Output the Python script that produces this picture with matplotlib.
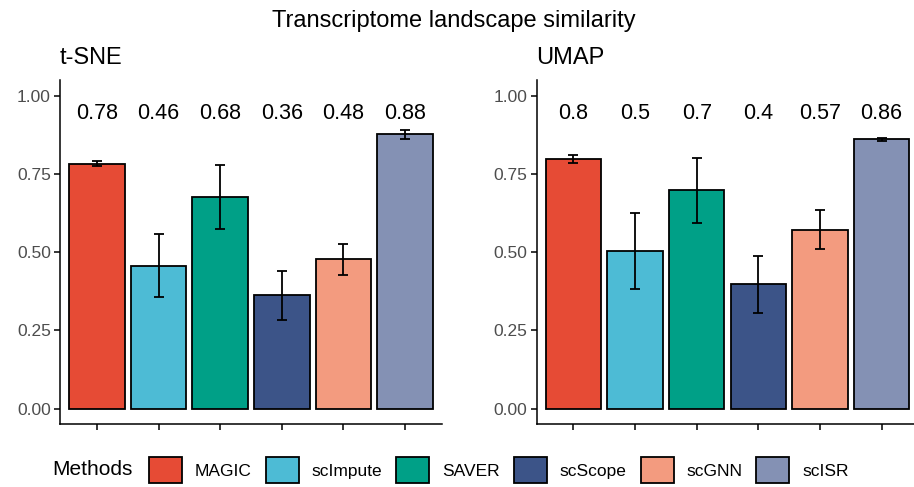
import matplotlib.pyplot as plt
from matplotlib.patches import Patch

plt.rcParams["font.family"] = ["Liberation Sans", "DejaVu Sans"]

methods = ["MAGIC", "scImpute", "SAVER", "scScope", "scGNN", "scISR"]
colors = ["#E64B35", "#4DBBD5", "#00A087", "#3C5488", "#F39B7F", "#8491B4"]

tsne_mean = [0.783, 0.457, 0.677, 0.362, 0.477, 0.877]
tsne_err = [0.008, 0.100, 0.102, 0.078, 0.050, 0.014]

umap_mean = [0.798, 0.503, 0.698, 0.397, 0.572, 0.862]
umap_err = [0.012, 0.122, 0.105, 0.090, 0.062, 0.005]

panels = [("t-SNE", tsne_mean, tsne_err), ("UMAP", umap_mean, umap_err)]

fig = plt.figure(figsize=(9.14, 4.87), dpi=100)
ax_pos = [[0.0656, 0.129, 0.418, 0.706], [0.587, 0.129, 0.418, 0.706]]

for pos, (name, means, errs) in zip(ax_pos, panels):
    ax = fig.add_axes(pos)
    x = list(range(1, len(methods) + 1))
    ax.bar(x, means, width=0.9, color=colors, edgecolor="black", linewidth=1.3, zorder=2)
    ax.errorbar(x, means, yerr=errs, fmt="none", ecolor="black", elinewidth=1.3,
                capsize=3.8, capthick=1.3, zorder=3)
    for xi, m in zip(x, means):
        ax.text(xi, 0.927, f"{round(m, 2):g}", ha="center", va="baseline", fontsize=15.5)
    ax.set_xlim(0.4, 6.6)
    ax.set_ylim(-0.05, 1.05)
    ax.set_xticks(x)
    ax.set_xticklabels([])
    ax.set_yticks([0, 0.25, 0.5, 0.75, 1.0])
    ax.set_yticklabels(["0.00", "0.25", "0.50", "0.75", "1.00"])
    ax.tick_params(axis="both", direction="out", length=4, width=1.1, colors="black",
                   labelcolor="#4D4D4D", labelsize=12.5, pad=2.5)
    for s in ["top", "right"]:
        ax.spines[s].set_visible(False)
    for s in ["left", "bottom"]:
        ax.spines[s].set_linewidth(1.1)
    ax.set_title(name, loc="left", fontsize=17, pad=12)

fig.text(0.4962, 1 - 27 / 487, "Transcriptome landscape similarity", fontsize=17,
         ha="center", va="baseline")

handles = [Patch(facecolor=c, edgecolor="black", linewidth=1.3) for c in colors]
fig.legend(handles, methods, loc="center left", bbox_to_anchor=(0.163, 0.035), ncol=6,
           frameon=False, fontsize=12.5, handlelength=1.9, handleheight=1.85,
           columnspacing=0.8, handletextpad=0.75, borderpad=0, borderaxespad=0)
fig.text(0.057, 0.035, "Methods", fontsize=15, va="center", ha="left")

plt.savefig("out.png", dpi=100)
plt.close()
